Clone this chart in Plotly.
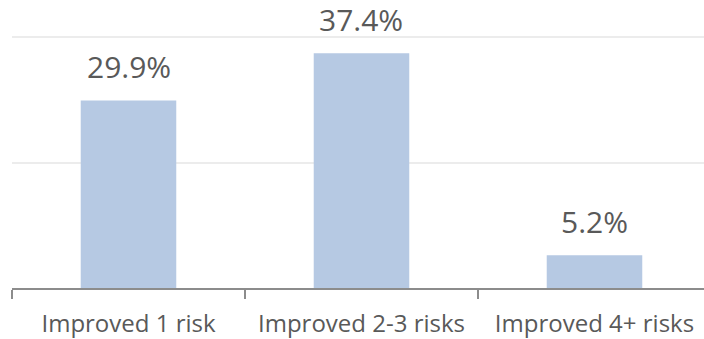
import plotly.graph_objects as go

categories = ["Improved 1 risk", "Improved 2-3 risks", "Improved 4+ risks"]
values = [29.9, 37.4, 5.2]
labels = ["29.9%", "37.4%", "5.2%"]

fig = go.Figure(go.Bar(
    x=categories, y=values,
    marker=dict(color="#b6c9e3", line=dict(width=0)),
    width=0.41,
))
for c, v, t in zip(categories, values, labels):
    fig.add_annotation(
        x=c, y=v, text=t, showarrow=False, yanchor="bottom", yshift=11,
        font=dict(family="Open Sans", size=30, color="#595959"),
    )
fig.update_layout(
    width=704, height=339, margin=dict(l=12, r=0, t=0, b=51),
    paper_bgcolor="white", plot_bgcolor="white", showlegend=False,
)
fig.update_xaxes(
    range=[-0.5, 2.47], showline=True, linecolor="#8c8c8c", linewidth=1.5,
    ticks="outside", tickson="boundaries", ticklen=9, tickcolor="#8c8c8c", tickwidth=1.5,
    tickfont=dict(family="Open Sans", size=24, color="#595959"), showgrid=False,
    ticklabelstandoff=13,
)
fig.update_yaxes(
    range=[0, 45.9], tickvals=[0, 20, 40], showticklabels=False,
    showgrid=True, gridcolor="#ececec", gridwidth=1.5, zeroline=False,
)
fig.write_html("out.html")
